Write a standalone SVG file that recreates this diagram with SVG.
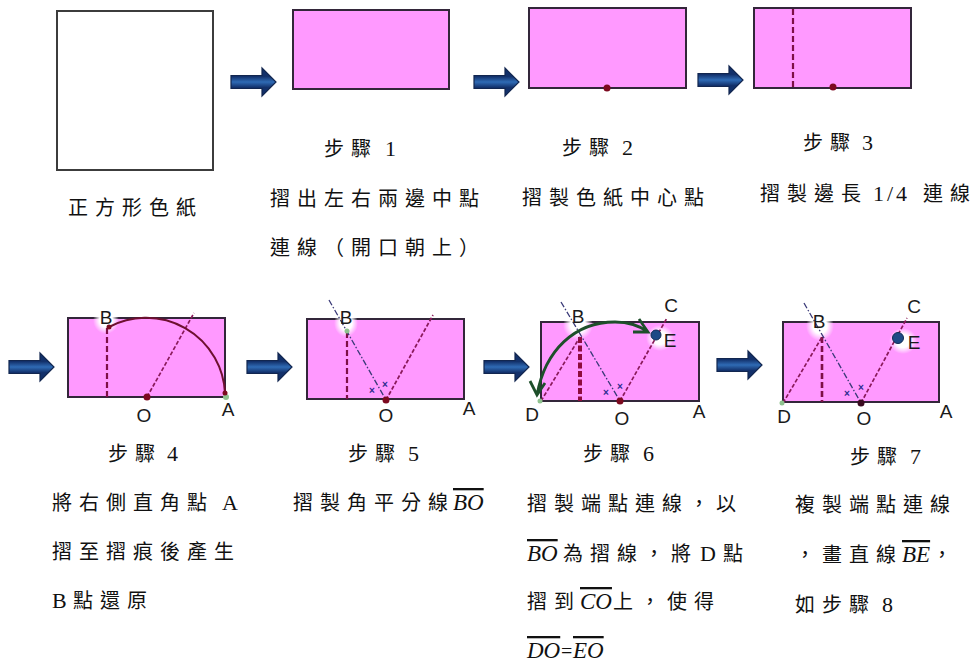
<svg xmlns="http://www.w3.org/2000/svg" width="977" height="664" viewBox="0 0 977 664">
<style>
.paper{fill:#ff99ff;stroke:#33263a;stroke-width:2}
.blank{fill:#fff;stroke:#3c3c3c;stroke-width:2}
.fold{fill:none;stroke:#7e0f46;stroke-width:2.2;stroke-dasharray:6 3}
.thin{fill:none;stroke:#8a1a5a;stroke-width:1.7;stroke-dasharray:4 2}
.bis{fill:none;stroke:#3a3a78;stroke-width:1.3;stroke-dasharray:6 2 1.5 2}
.thick{fill:none;stroke:#8e0c3c;stroke-width:4;stroke-dasharray:6 2.5}
.dot{fill:#7c0a20}
.gdot{fill:#8fc28f}
.ex{font:bold 10px "Liberation Sans",sans-serif;fill:#2c2c90;text-anchor:middle}
.lab{font:19px "Liberation Sans",sans-serif;fill:#1a1a1a;text-anchor:middle}
.t{font-family:"Liberation Serif","Noto Sans CJK TC",serif;font-size:20px;letter-spacing:7px;fill:#111}
.n{font-size:22px;letter-spacing:0}
.m{font-family:"Liberation Serif",serif;font-style:italic;font-size:23px;letter-spacing:0;text-decoration:overline}
.curve{fill:none;stroke:#1d4f2a;stroke-width:2.8}
</style>
<defs>
<linearGradient id="blue" x1="0" y1="0" x2="0" y2="1">
<stop offset="0.3" stop-color="#12306a"/><stop offset="0.5" stop-color="#2f6bb5"/><stop offset="0.7" stop-color="#12306a"/>
</linearGradient>
<radialGradient id="glow"><stop offset="0.5" stop-color="#fff"/><stop offset="1" stop-color="#fff" stop-opacity="0"/></radialGradient>
<path id="ba" d="M0,-6.5H31V-14L45,0L31,14V6.5H0Z" fill="url(#blue)" stroke="#12264f" stroke-width="1.2"/>
</defs>

<g id="connectors">
<use href="#ba" x="231" y="82"/>
<use href="#ba" x="474" y="82"/>
<use href="#ba" x="698" y="80"/>
<use href="#ba" x="9" y="367"/>
<use href="#ba" x="247" y="367"/>
<use href="#ba" x="484" y="367"/>
<use href="#ba" x="717" y="365"/>
</g>

<g id="square">
<rect class="blank" x="57" y="11" width="156" height="159"/>
<text class="t" x="68" y="215">正方形色紙</text>
</g>

<g id="step1">
<rect class="paper" x="293" y="10" width="156" height="79"/>
<text class="t" x="324" y="156">步驟<tspan class="n" x="385">1</tspan></text>
<text class="t" x="270" y="206">摺出左右兩邊中點</text>
<text class="t" x="270" y="255">連線（開口朝上）</text>
</g>

<g id="step2">
<rect class="paper" x="529" y="8" width="157" height="80"/>
<circle class="dot" cx="607" cy="88" r="3.5"/>
<text class="t" x="562" y="155">步驟<tspan class="n" x="622">2</tspan></text>
<text class="t" x="522" y="205">摺製色紙中心點</text>
</g>

<g id="step3">
<rect class="paper" x="754" y="8" width="157" height="80"/>
<line class="fold" x1="793" y1="9" x2="793" y2="88"/>
<circle class="dot" cx="833" cy="87" r="3.5"/>
<text class="t" x="803" y="150">步驟<tspan class="n" x="862">3</tspan></text>
<text class="t" x="760" y="201">摺製邊長<tspan class="n" x="873" style="letter-spacing:3px">1/4</tspan><tspan x="923">連線</tspan></text>
</g>

<g id="step4">
<rect class="paper" x="68" y="318" width="157" height="79"/>
<ellipse cx="106" cy="320" rx="13" ry="14" fill="url(#glow)"/>
<line class="fold" x1="107" y1="328" x2="107" y2="397"/>
<line class="thin" x1="147" y1="397" x2="194" y2="313"/>
<path d="M225,393A79,79 0 0 0 109,327" fill="none" stroke="#6e1030" stroke-width="2"/>
<circle class="gdot" cx="226" cy="397" r="3"/>
<circle class="dot" cx="225" cy="393" r="2.5"/>
<circle class="dot" cx="109" cy="327" r="2.5"/>
<circle class="dot" cx="147" cy="397" r="3.5"/>
<text class="lab" x="106" y="324">B</text>
<text class="lab" x="144" y="422">O</text>
<text class="lab" x="228" y="416">A</text>
<text class="t" x="108" y="461">步驟<tspan class="n" x="167">4</tspan></text>
<text class="t" x="52" y="510">將右側直角點<tspan class="n" x="222">A</tspan></text>
<text class="t" x="52" y="559">摺至摺痕後產生</text>
<text class="t" x="52" y="608"><tspan class="n">B</tspan><tspan x="73">點還原</tspan></text>
</g>

<g id="step5">
<rect class="paper" x="307" y="319" width="157" height="80"/>
<ellipse cx="346" cy="323" rx="12" ry="14" fill="url(#glow)"/>
<line class="fold" x1="347" y1="332" x2="347" y2="399"/>
<line class="thin" x1="386" y1="400" x2="433" y2="315"/>
<line class="bis" x1="329" y1="300" x2="386" y2="400"/>
<text class="ex" x="372" y="394">×</text>
<text class="ex" x="385" y="388">×</text>
<circle class="dot" cx="386" cy="400" r="3.5"/>
<circle class="gdot" cx="347" cy="331" r="2.5"/>
<text class="lab" x="346" y="324">B</text>
<text class="lab" x="386" y="422">O</text>
<text class="lab" x="469" y="415">A</text>
<text class="t" x="348" y="461">步驟<tspan class="n" x="408">5</tspan></text>
<text class="t" x="293" y="510">摺製角平分線<tspan class="m" x="453">BO</tspan></text>
</g>

<g id="step6">
<rect class="paper" x="541" y="322" width="158" height="79"/>
<ellipse cx="578" cy="325" rx="15" ry="15" fill="url(#glow)"/>
<ellipse cx="660" cy="338" rx="14" ry="13" fill="url(#glow)"/>
<line class="thick" x1="580" y1="337" x2="580" y2="401"/>
<line class="thin" x1="541" y1="401" x2="580" y2="337"/>
<line class="thin" x1="620" y1="401" x2="667" y2="318"/>
<line class="bis" x1="561" y1="302" x2="620" y2="401"/>
<text class="ex" x="606" y="396">×</text>
<text class="ex" x="620" y="390">×</text>
<circle class="dot" cx="620" cy="401" r="3.5"/>
<circle class="gdot" cx="540" cy="401" r="2.5"/>
<circle cx="656" cy="335" r="5" fill="#1c4a86" stroke="#0f2a55"/>
<path class="curve" d="M537,395C545,350 575,322 615,322C628,322 640,326 648,332M530,381L537,395L545,383M639,319L648,332L633,332"/>
<text class="lab" x="578" y="323">B</text>
<text class="lab" x="671" y="312">C</text>
<text class="lab" x="670" y="347">E</text>
<text class="lab" x="532" y="421">D</text>
<text class="lab" x="622" y="425">O</text>
<text class="lab" x="699" y="418">A</text>
<text class="t" x="583" y="461">步驟<tspan class="n" x="643">6</tspan></text>
<text class="t" x="527" y="511">摺製端點連線，以</text>
<text class="t" x="527" y="561"><tspan class="m">BO</tspan><tspan x="563">為摺線，將</tspan><tspan class="n" x="700">D</tspan><tspan x="723">點</tspan></text>
<text class="t" x="527" y="609">摺到<tspan class="m" x="580">CO</tspan><tspan x="613">上，使得</tspan></text>
<text class="t" x="527" y="658"><tspan class="m">DO</tspan><tspan x="561" style="letter-spacing:0">=</tspan><tspan class="m" x="573">EO</tspan></text>
</g>

<g id="step7">
<rect class="paper" x="783" y="322" width="156" height="80"/>
<ellipse cx="820" cy="326" rx="14" ry="15" fill="url(#glow)"/>
<ellipse cx="903" cy="341" rx="14" ry="13" fill="url(#glow)"/>
<line class="fold" x1="822" y1="337" x2="822" y2="402" style="stroke-width:2.6"/>
<line class="thin" x1="783" y1="403" x2="822" y2="337"/>
<line class="thin" x1="861" y1="403" x2="907" y2="318"/>
<line class="bis" x1="804" y1="303" x2="861" y2="403"/>
<text class="ex" x="847" y="397">×</text>
<text class="ex" x="861" y="391">×</text>
<circle cx="861" cy="403" r="3.5" fill="#3a0a20"/>
<circle class="gdot" cx="782" cy="403" r="2.5"/>
<circle cx="898" cy="338" r="5.5" fill="#1c4a86" stroke="#0f2a55"/>
<text class="lab" x="819" y="328">B</text>
<text class="lab" x="914" y="313">C</text>
<text class="lab" x="914" y="349">E</text>
<text class="lab" x="784" y="423">D</text>
<text class="lab" x="864" y="425">O</text>
<text class="lab" x="946" y="418">A</text>
<text class="t" x="850" y="464">步驟<tspan class="n" x="910">7</tspan></text>
<text class="t" x="795" y="512">複製端點連線</text>
<text class="t" x="795" y="562">，畫直線<tspan class="m" x="902">BE</tspan><tspan x="932">，</tspan></text>
<text class="t" x="795" y="612">如步驟<tspan class="n" x="882">8</tspan></text>
</g>
</svg>
